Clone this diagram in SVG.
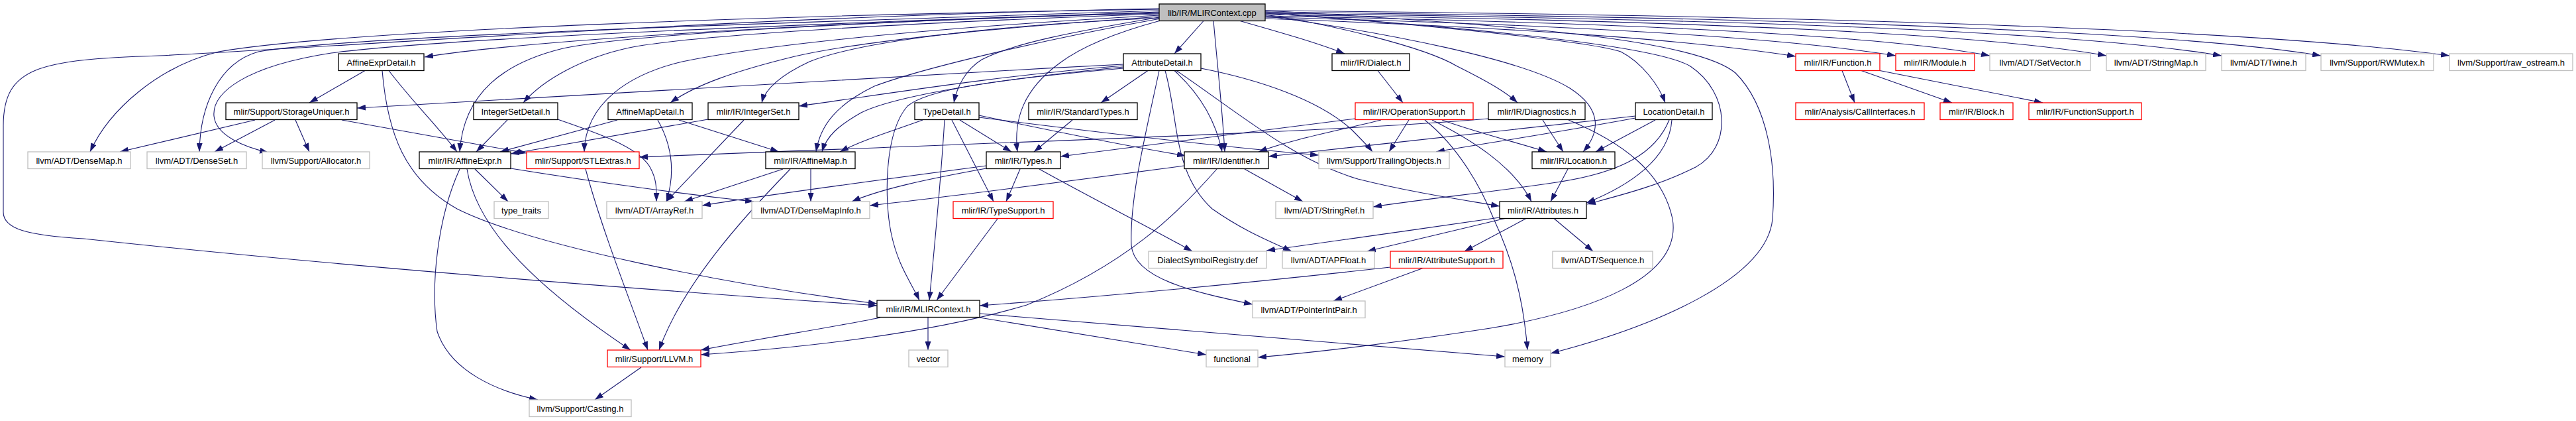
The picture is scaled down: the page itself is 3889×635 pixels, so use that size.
<svg xmlns="http://www.w3.org/2000/svg" width="3889" height="635" viewBox="0 0 3889 635">
<defs>
<style>
.b{fill:#fff;stroke:#000;stroke-width:1.3}
.r{fill:#fff;stroke:#f00;stroke-width:1.3}
.g{fill:#fff;stroke:#bfbfbf;stroke-width:1.3}
.rt{fill:#bfbfbf;stroke:#000;stroke-width:1.3}
text{font-family:"Liberation Sans",Arial,sans-serif;font-size:13px;text-anchor:middle;fill:#000}
.e path{fill:none;stroke:#191970;stroke-width:1.1;marker-end:url(#a)}
</style>
<marker id="a" markerUnits="userSpaceOnUse" markerWidth="13" markerHeight="9" refX="13" refY="4.5" orient="auto" viewBox="0 0 13 9"><path d="M0,0 L13,4.5 L0,9 z" fill="#191970"/></marker>
</defs>
<rect width="3889" height="635" fill="#fff"/>
<g id="edges" class="e">
<path d="M1750,14 C1200,22 520,45 330,78 C240,100 165,165 136,229"/>
<path d="M1750,13 C1100,25 500,72 240,84 C60,90 5,100 5,190 L5,320 C5,345 40,355 126,360 C500,400 900,432 1324,461"/>
<path d="M1750,16 C1150,35 520,55 390,78 C330,95 302,160 301,229"/>
<path d="M1750,18 C1100,40 650,60 500,80 C370,100 320,140 323,175 C326,205 370,222 405,230"/>
<path d="M1750,20 C1300,30 800,60 641,86"/>
<path d="M1750,19 C1300,32 950,52 850,73 C760,95 700,140 694,229"/>
<path d="M1750,21 C1400,33 1050,52 950,72 C880,87 820,120 790,155"/>
<path d="M1751,23 C1400,42 1150,68 1030,93 C950,112 884,155 882,229"/>
<path d="M1752,25 C1500,42 1300,62 1200,85 C1110,107 1050,128 1012,155"/>
<path d="M1752,27 C1500,38 1300,62 1222,93 C1175,115 1155,135 1150,155"/>
<path d="M1752,28 C1600,55 1400,100 1320,130 C1262,158 1238,190 1232,229"/>
<path d="M1750,26 C1620,48 1530,65 1482,90 C1458,105 1445,130 1440,155"/>
<path d="M1752,31 C1700,45 1640,65 1600,95 C1545,135 1530,180 1536,229"/>
<path d="M1817,31.5 L1773,81"/>
<path d="M1832,31.5 C1838,100 1845,160 1849,229"/>
<path d="M1872,31.5 C1930,48 1990,65 2030,81"/>
<path d="M1910,22 C2000,35 2150,70 2200,100 C2250,125 2275,140 2291,155"/>
<path d="M1910,24 C2100,50 2300,90 2370,133 C2420,165 2415,200 2390,229"/>
<path d="M1910,18 C2150,38 2400,62 2447,78 C2480,95 2505,130 2514,155"/>
<path d="M1910,20 C2200,40 2500,68 2552,100 C2612,140 2615,222 2560,252 C2500,282 2440,296 2396,308"/>
<path d="M1910,16 C2300,38 2560,60 2620,110 C2670,160 2682,250 2676,330 C2668,420 2500,492 2341,533"/>
<path d="M1910,28 C2300,42 2550,60 2711,85"/>
<path d="M1910,26 C2400,38 2700,58 2862,84"/>
<path d="M1910,24 C2500,35 2850,55 3004,84"/>
<path d="M1910,22 C2600,32 3000,52 3180,84"/>
<path d="M1910,20 C2700,30 3150,50 3354,84"/>
<path d="M1910,18 C2800,28 3300,50 3504,84"/>
<path d="M1910,16 C2900,25 3450,50 3698,84"/>
<path d="M2080,106.5 L2118,155"/>
<path d="M2046,179 C1900,198 1700,222 1601,236"/>
<path d="M2085,181 C2030,195 1950,210 1900,229"/>
<path d="M2127,181 L2097,229"/>
<path d="M2151,181 C2200,220 2235,280 2255,330 C2283,390 2300,450 2306,528"/>
<path d="M2162,181 C2220,210 2285,250 2312,304"/>
<path d="M2177,181 C2230,200 2290,215 2335,229"/>
<path d="M2247,179 C2000,200 1500,215 965,237"/>
<path d="M2329,181 L2360,229"/>
<path d="M2368,181 C2450,215 2510,260 2525,330 C2540,420 2400,470 2250,495 C2100,518 1980,532 1899,539"/>
<path d="M2469,175 C2300,195 2100,215 1915,236"/>
<path d="M2469,178 C2350,200 2250,215 2168,229"/>
<path d="M2499,181 L2409,229"/>
<path d="M2520,181 C2500,230 2450,260 2350,275 C2250,290 2150,300 2073,312"/>
<path d="M2524,181 C2520,240 2460,280 2395,306"/>
<path d="M2367,255 L2341,304"/>
<path d="M1696,97 C1300,117 900,140 539,163"/>
<path d="M1696,99 C1500,115 1350,140 1206,160"/>
<path d="M1696,101 C1500,120 1350,145 1300,170 C1265,190 1248,205 1241,229"/>
<path d="M1696,103 C1500,120 1400,135 1370,160 C1335,200 1335,300 1345,350 C1355,400 1375,425 1388,453"/>
<path d="M1733,106.5 L1662,155"/>
<path d="M1750,106.5 C1730,200 1705,300 1708,370 C1712,420 1800,440 1891,459"/>
<path d="M1759,106.5 C1780,180 1770,260 1830,315 C1880,350 1920,365 1950,379"/>
<path d="M1773,106.5 C1810,140 1835,180 1845,229"/>
<path d="M1776,106.5 C1870,170 1950,240 2050,270 C2130,290 2200,300 2264,311"/>
<path d="M1813,103 C1900,120 1990,150 2040,195 C2055,210 2065,220 2072,229"/>
<path d="M1393,181 C1340,200 1300,212 1268,229"/>
<path d="M1426,181 C1420,280 1410,380 1403,453"/>
<path d="M1437,181 L1500,304"/>
<path d="M1449,181 L1527,229"/>
<path d="M1478,174 C1600,200 1700,220 1790,235"/>
<path d="M1478,177 C1700,205 1850,222 1991,234"/>
<path d="M1619,181 L1561,229"/>
<path d="M1489,250 C1300,275 1150,295 1060,310"/>
<path d="M1489,254 C1400,270 1330,285 1286,304"/>
<path d="M1540,255 L1519,304"/>
<path d="M1569,255 C1650,300 1730,340 1800,379"/>
<path d="M1788,250 C1600,275 1450,295 1313,310"/>
<path d="M1837,255 C1780,320 1700,400 1550,460 C1400,505 1200,525 1058,535"/>
<path d="M1879,255 L1967,304"/>
<path d="M1506,330 L1414,453"/>
<path d="M1401,479 L1401,528"/>
<path d="M1479,479 L1821,535"/>
<path d="M1479,473 C1800,500 2050,520 2272,538"/>
<path d="M1329,479 C1250,495 1150,510 1058,528"/>
<path d="M2099,403 C1900,425 1700,445 1479,461"/>
<path d="M2148,404.5 L2013,454"/>
<path d="M2264,328 C2150,345 2000,365 1912,378"/>
<path d="M2272,329.5 L2064,379"/>
<path d="M2304,329.5 L2211,379"/>
<path d="M2346,329.5 L2405,379"/>
<path d="M551,106.5 L467,155"/>
<path d="M587,106.5 C620,150 660,190 690,229"/>
<path d="M577,106.5 C585,200 610,270 690,315 C800,370 1100,430 1324,458"/>
<path d="M385,181 L181,229"/>
<path d="M415,181 L324,229"/>
<path d="M446,181 L467,229"/>
<path d="M516,181 L795,231"/>
<path d="M766,181 L719,229"/>
<path d="M842,180 C900,200 960,220 980,250 C992,270 991,285 991,304"/>
<path d="M932,181 L755,229"/>
<path d="M993,181 C1015,220 1020,260 1006,304"/>
<path d="M1025,181 L1176,229"/>
<path d="M1069,180 L771,232"/>
<path d="M1123,181 L1006,304"/>
<path d="M717,255 L767,304"/>
<path d="M771,254 C900,275 1050,295 1138,304"/>
<path d="M705,255 C720,350 820,440 952,528"/>
<path d="M694,255 C660,330 650,430 660,500 C680,560 750,590 812,603"/>
<path d="M884,255 C910,350 950,450 978,528"/>
<path d="M1182,255 L1033,304"/>
<path d="M1224,255 L1224,304"/>
<path d="M1193,255 C1120,330 1030,430 995,528"/>
<path d="M968,554 L898,603"/>
<path d="M2781,106.5 L2800,155"/>
<path d="M2810,106.5 L2947,155"/>
<path d="M2838,106.5 L3084,155"/>
</g>
<g id="n_root"><rect class="rt" x="1750" y="6" width="160" height="25.5"/><text x="1830" y="23.5">lib/IR/MLIRContext.cpp</text></g>
<g id="n_affineexprdetail"><rect class="b" x="511" y="81" width="129" height="25.5"/><text x="575.5" y="98.5">AffineExprDetail.h</text></g>
<g id="n_attributedetail"><rect class="b" x="1696" y="81" width="117" height="25.5"/><text x="1754.5" y="98.5">AttributeDetail.h</text></g>
<g id="n_dialect"><rect class="b" x="2011" y="81" width="117" height="25.5"/><text x="2069.5" y="98.5">mlir/IR/Dialect.h</text></g>
<g id="n_function"><rect class="r" x="2711" y="81" width="127" height="25.5"/><text x="2774.5" y="98.5">mlir/IR/Function.h</text></g>
<g id="n_module"><rect class="r" x="2862" y="81" width="119" height="25.5"/><text x="2921.5" y="98.5">mlir/IR/Module.h</text></g>
<g id="n_setvector"><rect class="g" x="3004" y="81" width="152" height="25.5"/><text x="3080" y="98.5">llvm/ADT/SetVector.h</text></g>
<g id="n_stringmap"><rect class="g" x="3180" y="81" width="150" height="25.5"/><text x="3255" y="98.5">llvm/ADT/StringMap.h</text></g>
<g id="n_twine"><rect class="g" x="3354" y="81" width="127" height="25.5"/><text x="3417.5" y="98.5">llvm/ADT/Twine.h</text></g>
<g id="n_rwmutex"><rect class="g" x="3504" y="81" width="170" height="25.5"/><text x="3589" y="98.5">llvm/Support/RWMutex.h</text></g>
<g id="n_rawostream"><rect class="g" x="3698" y="81" width="186" height="25.5"/><text x="3791" y="98.5">llvm/Support/raw_ostream.h</text></g>
<g id="n_storageuniquer"><rect class="b" x="341" y="155" width="198" height="25.5"/><text x="440" y="172.5">mlir/Support/StorageUniquer.h</text></g>
<g id="n_integersetdetail"><rect class="b" x="715" y="155" width="127" height="25.5"/><text x="778.5" y="172.5">IntegerSetDetail.h</text></g>
<g id="n_affinemapdetail"><rect class="b" x="918" y="155" width="127" height="25.5"/><text x="981.5" y="172.5">AffineMapDetail.h</text></g>
<g id="n_integerset"><rect class="b" x="1069" y="155" width="137" height="25.5"/><text x="1137.5" y="172.5">mlir/IR/IntegerSet.h</text></g>
<g id="n_typedetail"><rect class="b" x="1381" y="155" width="97" height="25.5"/><text x="1429.5" y="172.5">TypeDetail.h</text></g>
<g id="n_standardtypes"><rect class="b" x="1553" y="155" width="164" height="25.5"/><text x="1635" y="172.5">mlir/IR/StandardTypes.h</text></g>
<g id="n_operationsupport"><rect class="r" x="2046" y="155" width="178" height="25.5"/><text x="2135" y="172.5">mlir/IR/OperationSupport.h</text></g>
<g id="n_diagnostics"><rect class="b" x="2247" y="155" width="146" height="25.5"/><text x="2320" y="172.5">mlir/IR/Diagnostics.h</text></g>
<g id="n_locationdetail"><rect class="b" x="2469" y="155" width="116" height="25.5"/><text x="2527" y="172.5">LocationDetail.h</text></g>
<g id="n_callinterfaces"><rect class="r" x="2711" y="155" width="194" height="25.5"/><text x="2808" y="172.5">mlir/Analysis/CallInterfaces.h</text></g>
<g id="n_block"><rect class="r" x="2929" y="155" width="110" height="25.5"/><text x="2984" y="172.5">mlir/IR/Block.h</text></g>
<g id="n_functionsupport"><rect class="r" x="3063" y="155" width="170" height="25.5"/><text x="3148" y="172.5">mlir/IR/FunctionSupport.h</text></g>
<g id="n_densemap"><rect class="g" x="42" y="229" width="155" height="25.5"/><text x="119.5" y="246.5">llvm/ADT/DenseMap.h</text></g>
<g id="n_denseset"><rect class="g" x="222" y="229" width="150" height="25.5"/><text x="297" y="246.5">llvm/ADT/DenseSet.h</text></g>
<g id="n_allocator"><rect class="g" x="396" y="229" width="162" height="25.5"/><text x="477" y="246.5">llvm/Support/Allocator.h</text></g>
<g id="n_affineexpr"><rect class="b" x="633" y="229" width="138" height="25.5"/><text x="702" y="246.5">mlir/IR/AffineExpr.h</text></g>
<g id="n_stlextras"><rect class="r" x="795" y="229" width="170" height="25.5"/><text x="880" y="246.5">mlir/Support/STLExtras.h</text></g>
<g id="n_affinemap"><rect class="b" x="1156" y="229" width="135" height="25.5"/><text x="1223.5" y="246.5">mlir/IR/AffineMap.h</text></g>
<g id="n_types"><rect class="b" x="1489" y="229" width="112" height="25.5"/><text x="1545" y="246.5">mlir/IR/Types.h</text></g>
<g id="n_identifier"><rect class="b" x="1788" y="229" width="127" height="25.5"/><text x="1851.5" y="246.5">mlir/IR/Identifier.h</text></g>
<g id="n_trailingobjects"><rect class="g" x="1991" y="229" width="197" height="25.5"/><text x="2089.5" y="246.5">llvm/Support/TrailingObjects.h</text></g>
<g id="n_location"><rect class="b" x="2313" y="229" width="125" height="25.5"/><text x="2375.5" y="246.5">mlir/IR/Location.h</text></g>
<g id="n_typetraits"><rect class="g" x="746" y="304" width="82" height="25.5"/><text x="787" y="321.5">type_traits</text></g>
<g id="n_arrayref"><rect class="g" x="916" y="304" width="144" height="25.5"/><text x="988" y="321.5">llvm/ADT/ArrayRef.h</text></g>
<g id="n_densemapinfo"><rect class="g" x="1135" y="304" width="178" height="25.5"/><text x="1224" y="321.5">llvm/ADT/DenseMapInfo.h</text></g>
<g id="n_typesupport"><rect class="r" x="1439" y="304" width="151" height="25.5"/><text x="1514.5" y="321.5">mlir/IR/TypeSupport.h</text></g>
<g id="n_stringref"><rect class="g" x="1926" y="304" width="147" height="25.5"/><text x="1999.5" y="321.5">llvm/ADT/StringRef.h</text></g>
<g id="n_attributes"><rect class="b" x="2264" y="304" width="131" height="25.5"/><text x="2329.5" y="321.5">mlir/IR/Attributes.h</text></g>
<g id="n_dialectsymbolregistry"><rect class="g" x="1734" y="379" width="178" height="25.5"/><text x="1823" y="396.5">DialectSymbolRegistry.def</text></g>
<g id="n_apfloat"><rect class="g" x="1936" y="379" width="139" height="25.5"/><text x="2005.5" y="396.5">llvm/ADT/APFloat.h</text></g>
<g id="n_attributesupport"><rect class="r" x="2099" y="379" width="170" height="25.5"/><text x="2184" y="396.5">mlir/IR/AttributeSupport.h</text></g>
<g id="n_sequence"><rect class="g" x="2344" y="379" width="151" height="25.5"/><text x="2419.5" y="396.5">llvm/ADT/Sequence.h</text></g>
<g id="n_mlircontext"><rect class="b" x="1324" y="453" width="155" height="25.5"/><text x="1401.5" y="470.5">mlir/IR/MLIRContext.h</text></g>
<g id="n_pointerintpair"><rect class="g" x="1891" y="454" width="170" height="25.5"/><text x="1976" y="471.5">llvm/ADT/PointerIntPair.h</text></g>
<g id="n_llvm"><rect class="r" x="917" y="528" width="141" height="25.5"/><text x="987.5" y="545.5">mlir/Support/LLVM.h</text></g>
<g id="n_vector"><rect class="g" x="1372" y="528" width="59" height="25.5"/><text x="1401.5" y="545.5">vector</text></g>
<g id="n_functional"><rect class="g" x="1821" y="528" width="78" height="25.5"/><text x="1860" y="545.5">functional</text></g>
<g id="n_memory"><rect class="g" x="2272" y="528" width="69" height="25.5"/><text x="2306.5" y="545.5">memory</text></g>
<g id="n_casting"><rect class="g" x="799" y="603" width="154" height="25.5"/><text x="876" y="620.5">llvm/Support/Casting.h</text></g>
</svg>
